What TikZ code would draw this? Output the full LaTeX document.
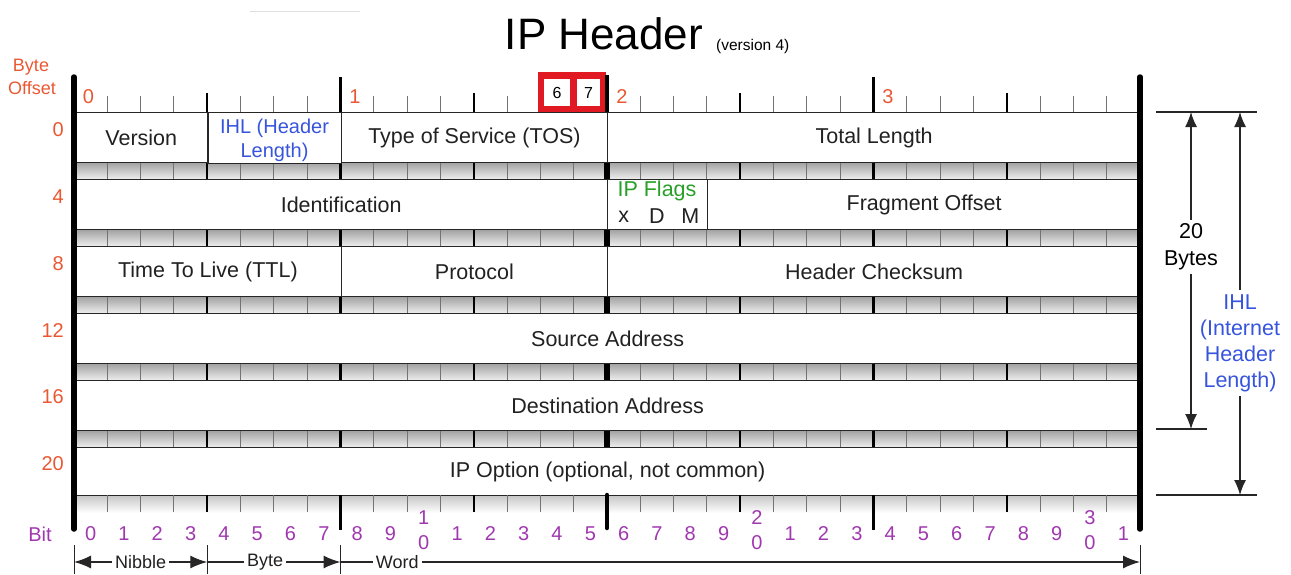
\documentclass[tikz,border=0pt]{standalone}
\usepackage{fontspec}
\setmainfont{Liberation Sans}
\usetikzlibrary{arrows.meta}
\definecolor{offred}{RGB}{233,88,50}
\definecolor{bitpurple}{RGB}{160,55,175}
\definecolor{ihlblue}{RGB}{55,85,220}
\definecolor{flaggreen}{RGB}{40,160,40}
\definecolor{boxred}{RGB}{225,25,35}
\newcommand\bitx[1]{(74+33.3125*(#1))}
\newcommand\fieldfont{\fontsize{21.5}{25}\selectfont}
\newcommand\lblfont{\fontsize{20}{23}\selectfont}
\begin{document}
\begin{tikzpicture}[x=1pt,y=-1pt,
  field/.style={draw=black!85, line width=1.3pt, fill=white,
    minimum width=#1*33.3125pt, minimum height=50pt, inner sep=2pt,
    anchor=north west, font=\fieldfont, text=black!87, align=center},
  thintick/.style={line width=0.9pt, draw=black!55},
  nibtick/.style={line width=2pt, draw=black},
  bytetick/.style={line width=2.6pt, draw=black},
  wordtick/.style={line width=4.5pt, draw=black},
  edge/.style={line width=5.5pt, draw=black, line cap=round},
  offlbl/.style={font=\lblfont, text=offred, inner sep=0pt},
  bitlbl/.style={font=\lblfont, text=bitpurple, inner sep=0pt},
  dimarr/.style={line width=1.3pt, draw=black!85, -{Latex[length=15pt,width=12pt]}},
  botarr/.style={line width=1.4pt, draw=black!85, -{Latex[length=17pt,width=13pt]}},
  dimline/.style={line width=1.3pt, draw=black!85},
  dimtxt/.style={font=\fieldfont, align=center, inner sep=4pt},
  smalltxt/.style={font=\fontsize{18}{21}\selectfont, fill=white, inner sep=3pt, text=black!87}
]
\useasboundingbox (0,0) rectangle (1291,574);

% faint line at top
\draw[gray!25, line width=1pt] (250,11) -- (360,11);

% title
\node[font=\fontsize{44}{50}\selectfont, inner sep=0pt] (title) at (604,34) {IP Header};
\node[font=\fontsize{15.5}{18}\selectfont, anchor=base west, inner sep=0pt] (ver) at (716,50) {(version 4)};

% separator bands
\foreach \b in {162,229,296,363,430} {
  \shade[top color=gray!75, bottom color=gray!14] (74,\b) rectangle (1140,\b+17);
  \foreach \i in {1,...,31} { \draw[thintick] ({\bitx{\i}},\b) -- ({\bitx{\i}},\b+17); }
  \foreach \i in {4,12,20,28} { \draw[nibtick] ({\bitx{\i}},\b) -- ({\bitx{\i}},\b+17); }
  \foreach \i in {8,24} { \draw[bytetick] ({\bitx{\i}},\b) -- ({\bitx{\i}},\b+17); }
  \draw[line width=5.5pt] ({\bitx{16}},\b) -- ({\bitx{16}},\b+17);
}
% bottom ruler shade
\shade[top color=gray!45, bottom color=white] (74,495) rectangle (1140,513);

% row 0
\node[field=4] (version) at (74,112) {Version};
\node[field=4, text=ihlblue, font=\fontsize{20}{24}\selectfont] (ihl) at ({\bitx{4}},112) {\rule{0pt}{19pt}IHL (Header\\Length)};
\node[field=8] (tos) at ({\bitx{8}},112) {Type of Service (TOS)};
\node[field=16] (totlen) at ({\bitx{16}},112) {\rule{0pt}{17pt}Total Length};
% row 4
\node[field=16] (ident) at (74,179) {Identification};
\node[field=3] (flags) at ({\bitx{16}},179) {};
\node[field=13] (fragoff) at ({\bitx{19}},179) {\rule{0pt}{17pt}Fragment Offset};
\node[font=\fieldfont, text=flaggreen, inner sep=0pt] (flagname) at (657,191) {IP Flags};
\node[font=\fieldfont, text=black!87, inner sep=0pt] (fx) at ({\bitx{16.5}},217) {x};
\node[font=\fieldfont, text=black!87, inner sep=0pt] (fd) at ({\bitx{17.5}},216) {D};
\node[font=\fieldfont, text=black!87, inner sep=0pt] (fm) at ({\bitx{18.5}},216) {M};
% row 8
\node[field=8] (ttl) at (74,246) {Time To Live (TTL)};
\node[field=8] (proto) at ({\bitx{8}},246) {Protocol};
\node[field=16] (chksum) at ({\bitx{16}},246) {Header Checksum};
% rows 12,16,20
\node[field=32] (src) at (74,313) {Source Address};
\node[field=32] (dst) at (74,380) {Destination Address};
\node[field=32, minimum height=48pt] (opt) at (74,447) {IP Option (optional, not common)};

% top ruler
\foreach \i in {1,...,31} { \draw[thintick] ({\bitx{\i}},96) -- ({\bitx{\i}},112); }
\fill[boxred] (538,72) rectangle (606,112);
\fill[white] (544,79) rectangle (570,106);
\fill[white] (577,79) rectangle (600,106);
\node[font=\fontsize{16}{19}\selectfont, inner sep=0pt] (six) at (557,92.5) {6};
\node[font=\fontsize{16}{19}\selectfont, inner sep=0pt] (seven) at (588.5,92.5) {7};
\foreach \i in {4,12,20,28} { \draw[nibtick] ({\bitx{\i}},93) -- ({\bitx{\i}},112); }
\foreach \i in {8,24} { \draw[bytetick] ({\bitx{\i}},77) -- ({\bitx{\i}},112); }
\draw[bytetick, line width=3.2pt] ({\bitx{16}},75) -- ({\bitx{16}},112);

% bottom ruler
\foreach \i in {1,...,31} { \draw[thintick] ({\bitx{\i}},495) -- ({\bitx{\i}},512); }
\foreach \i in {4,12,20,28} { \draw[nibtick] ({\bitx{\i}},495) -- ({\bitx{\i}},512); }
\foreach \i in {8,24} { \draw[bytetick] ({\bitx{\i}},495) -- ({\bitx{\i}},530); }
\draw[wordtick, line cap=round] ({\bitx{16}},495) -- ({\bitx{16}},528);

% edges
\draw[edge] (74,77) -- (74,529);
\draw[edge] (1140,77) -- (1140,529);

% byte offset labels
\node[offlbl, font=\fontsize{18}{21}\selectfont] (bytelbl) at (31,67) {Byte};
\node[offlbl, font=\fontsize{18}{21}\selectfont] (offsetlbl) at (32,88) {Offset};
\node[offlbl] (o0) at (88.5,97) {0};
\node[offlbl] (o1) at (355,97) {1};
\node[offlbl] (o2) at (622,97) {2};
\node[offlbl] (o3) at (888,97) {3};
\node[offlbl, anchor=east] (r0) at (64,130) {0};
\node[offlbl, anchor=east] (r4) at (64,197) {4};
\node[offlbl, anchor=east] (r8) at (64,264) {8};
\node[offlbl, anchor=east] (r12) at (64,331) {12};
\node[offlbl, anchor=east] (r16) at (64,397) {16};
\node[offlbl, anchor=east] (r20) at (64,464) {20};

% bit labels
\node[bitlbl] (bitword) at (40,534) {Bit};
\foreach \i in {0,...,31} {
  \pgfmathtruncatemacro\units{mod(\i,10)}
  \pgfmathtruncatemacro\tens{\i/10}
  \ifnum\units=0
    \ifnum\i>0
      \node[bitlbl] (bit\i) at ({\bitx{\i+0.5}},518) {\tens};
      \node[bitlbl] (bitz\i) at ({\bitx{\i+0.5}},543) {0};
    \else
      \node[bitlbl] (bit\i) at ({\bitx{\i+0.5}},534) {\units};
    \fi
  \else
    \node[bitlbl] (bit\i) at ({\bitx{\i+0.5}},534) {\units};
  \fi
}

% bottom measures
\foreach \x/\n in {74/a,207.25/b,340.5/c,1140/d} {
  \coordinate (m\n t) at (\x,545);
  \coordinate (m\n b) at (\x,574);
  \coordinate (m\n) at (\x,562);
  \draw[line width=1pt, black!85] (m\n t) -- (m\n b);
}
\draw[botarr, {Latex[length=17pt,width=13pt]}-{Latex[length=17pt,width=13pt]}] (ma) -- node[smalltxt, pos=0.5] (nib) {Nibble} (mb);
\draw[botarr] (mb) -- node[smalltxt, pos=0.435] (byt) {Byte} (mc);
\draw[botarr] (mc) -- node[smalltxt, pos=0.071] (wrd) {Word} (md);

% right side dimension lines
\coordinate (h1a) at (1156,112); \coordinate (h1b) at (1257,112);
\coordinate (h2a) at (1156,429); \coordinate (h2b) at (1207,429);
\coordinate (h3a) at (1156,495); \coordinate (h3b) at (1257,495);
\draw[dimline] (h1a) -- (h1b);
\draw[dimline] (h2a) -- (h2b);
\draw[dimline] (h3a) -- (h3b);
\node[dimtxt, font=\fontsize{21.5}{27}\selectfont] (twenty) at (1191,247) {20\\Bytes};
\coordinate (tt) at (1191,112);
\coordinate (tb) at (1191,429);
\draw[dimarr] (twenty.north) -- (tt);
\draw[dimarr] (twenty.south) -- (tb);
\node[dimtxt, text=ihlblue, font=\fontsize{21.5}{26}\selectfont] (ihlside) at (1240,343) {IHL\\(Internet\\Header\\Length)};
\coordinate (it) at (1240,112);
\coordinate (ib) at (1240,495);
\draw[dimarr] (ihlside.north) -- (it);
\draw[dimarr] (ihlside.south) -- (ib);
\end{tikzpicture}
\end{document}
